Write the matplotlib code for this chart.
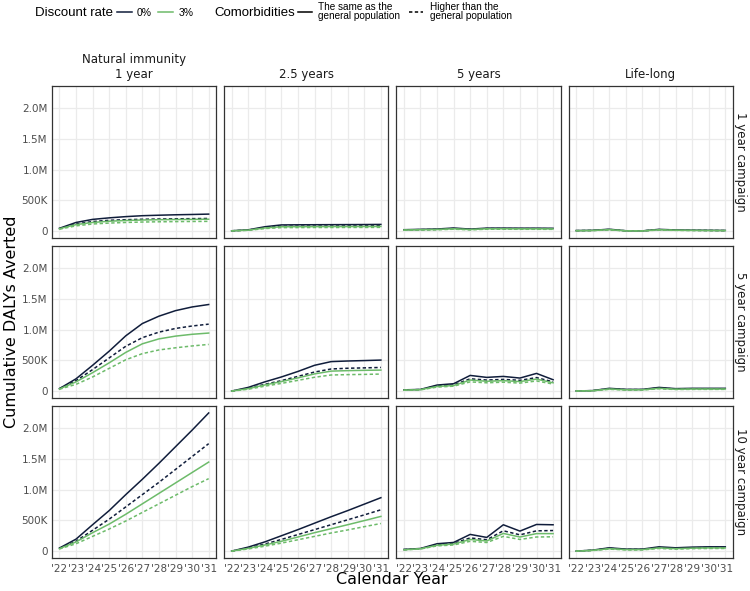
import matplotlib.pyplot as plt
from matplotlib.lines import Line2D
from matplotlib.ticker import FuncFormatter

years = [2022, 2023, 2024, 2025, 2026, 2027, 2028, 2029, 2030, 2031]
year_labels = ["'22", "'23", "'24", "'25", "'26", "'27", "'28", "'29", "'30", "'31"]
immunity = ['Natural immunity\n1 year', '2.5 years', '5 years', 'Life-long']
campaigns = ['1 year campaign', '5 year campaign', '10 year campaign']

# cumulative DALYs averted, thousands
# order per panel: 0% same, 0% higher, 3% same, 3% higher
camp1_nat1 = [
    [45, 140, 190, 215, 235, 250, 258, 265, 270, 276],
    [40, 115, 155, 175, 185, 192, 196, 199, 202, 205],
    [38, 105, 140, 160, 172, 180, 185, 188, 190, 193],
    [30, 85, 115, 130, 140, 147, 151, 154, 156, 158],
]
camp1_25y = [
    [5, 20, 70, 100, 102, 103, 104, 105, 106, 108],
    [4, 16, 55, 78, 80, 81, 82, 83, 84, 85],
    [4, 15, 50, 70, 71, 72, 73, 73, 74, 75],
    [3, 12, 40, 56, 57, 58, 58, 59, 59, 60],
]
camp1_5y = [
    [22, 28, 33, 50, 32, 48, 48, 47, 47, 45],
    [18, 23, 27, 40, 27, 40, 40, 39, 39, 38],
    [17, 22, 26, 37, 25, 37, 37, 36, 36, 35],
    [14, 18, 21, 30, 20, 30, 30, 29, 29, 28],
]
camp1_life = [
    [8, 12, 30, 5, 3, 28, 18, 14, 12, 10],
    [7, 10, 25, 4, 3, 23, 15, 12, 10, 8],
    [6, 9, 23, 4, 2, 21, 14, 11, 9, 8],
    [5, 8, 19, 3, 2, 17, 11, 9, 7, 6],
]
camp5_nat1 = [
    [40, 200, 420, 650, 900, 1100, 1220, 1310, 1370, 1410],
    [40, 170, 350, 540, 730, 870, 960, 1020, 1060, 1090],
    [35, 150, 300, 460, 630, 770, 850, 895, 925, 945],
    [30, 110, 230, 370, 510, 610, 670, 705, 735, 760],
]
camp5_25y = [
    [0, 60, 150, 230, 320, 420, 480, 490, 497, 505],
    [0, 45, 110, 170, 240, 310, 360, 372, 378, 385],
    [0, 40, 100, 155, 215, 280, 325, 333, 338, 342],
    [0, 30, 80, 125, 175, 225, 262, 268, 272, 277],
]
camp5_5y = [
    [20, 27, 98, 120, 255, 223, 239, 212, 288, 185],
    [18, 25, 85, 100, 200, 180, 190, 175, 220, 150],
    [16, 23, 75, 90, 180, 160, 170, 155, 195, 135],
    [14, 20, 65, 80, 150, 135, 145, 130, 165, 115],
]
camp5_life = [
    [2, 8, 45, 28, 28, 60, 40, 45, 45, 45],
    [2, 7, 38, 24, 24, 50, 34, 38, 38, 38],
    [2, 6, 34, 21, 21, 45, 30, 34, 34, 34],
    [1, 5, 28, 18, 18, 38, 26, 28, 28, 28],
]
camp10_nat1 = [
    [50, 195, 430, 660, 920, 1170, 1430, 1700, 1970, 2250],
    [45, 160, 340, 520, 720, 920, 1120, 1330, 1540, 1750],
    [40, 150, 300, 440, 600, 770, 940, 1110, 1280, 1450],
    [35, 120, 240, 360, 490, 630, 770, 910, 1050, 1180],
]
camp10_25y = [
    [0, 65, 150, 250, 350, 455, 560, 660, 765, 870],
    [0, 50, 115, 190, 270, 350, 430, 510, 590, 673],
    [0, 45, 100, 160, 230, 300, 365, 430, 497, 565],
    [0, 35, 80, 130, 185, 240, 295, 345, 398, 450],
]
camp10_5y = [
    [27, 43, 120, 141, 272, 223, 429, 326, 434, 429],
    [25, 40, 100, 125, 215, 185, 331, 265, 330, 335],
    [22, 38, 95, 115, 190, 165, 288, 230, 285, 285],
    [20, 35, 85, 100, 160, 140, 240, 190, 230, 233],
]
camp10_life = [
    [0, 16, 54, 33, 33, 70, 54, 65, 70, 70],
    [0, 13, 45, 28, 28, 58, 45, 54, 58, 58],
    [0, 12, 40, 25, 25, 52, 40, 48, 52, 52],
    [0, 10, 33, 20, 20, 43, 33, 40, 43, 43],
]

panels = [
    [camp1_nat1, camp1_25y, camp1_5y, camp1_life],
    [camp5_nat1, camp5_25y, camp5_5y, camp5_life],
    [camp10_nat1, camp10_25y, camp10_5y, camp10_life],
]

navy = '#101d3b'
green = '#6dbb6a'
dash = (0, (2.2, 1.6))
styles = [(navy, '-'), (navy, dash), (green, '-'), (green, dash)]


def fmt(v, pos):
    if v == 0:
        return '0'
    if v >= 1e6:
        return '%.1fM' % (v / 1e6)
    return '%dK' % (v / 1e3)


fig, axes = plt.subplots(3, 4, figsize=(7.5, 5.91), dpi=100, sharex=True, sharey=True)
fig.subplots_adjust(left=0.0693, right=0.977, top=0.8545, bottom=0.0558,
                    wspace=0.049, hspace=0.053)

for r in range(3):
    for c in range(4):
        ax = axes[r, c]
        for series, (col, ls) in zip(panels[r][c], styles):
            ax.plot(years, [v * 1000 for v in series], color=col, linestyle=ls, lw=1.1)
        ax.set_xlim(2021.55, 2031.45)
        ax.set_ylim(-112500, 2362500)
        ax.set_xticks(years)
        ax.set_xticklabels(year_labels)
        ax.set_yticks([0, 500000, 1000000, 1500000, 2000000])
        ax.yaxis.set_major_formatter(FuncFormatter(fmt))
        ax.grid(True, color='#ebebeb', lw=0.9)
        ax.set_axisbelow(True)
        for s in ax.spines.values():
            s.set_color('#333333')
            s.set_linewidth(0.9)
        ax.tick_params(length=0, pad=3, labelsize=7.5, colors='#4d4d4d',
                       labelleft=(c == 0), labelbottom=(r == 2))
        ax.tick_params(axis='x', pad=4)
        if r == 0:
            ax.set_title(immunity[c], fontsize=8.5, color='#1a1a1a', pad=6)
        if c == 3:
            ax.text(1.045, 0.5, campaigns[r], transform=ax.transAxes, rotation=-90,
                    ha='center', va='center', fontsize=8.5, color='#1a1a1a')

fig.text(392 / 750, 1 - 580 / 591, 'Calendar Year', ha='center', va='center', fontsize=11.5)
fig.text(12 / 750, 1 - 322 / 591, 'Cumulative DALYs Averted', ha='center', va='center',
         rotation=90, fontsize=11.5)

# legend drawn at the top
W, H = 750.0, 591.0
def fx(x):
    return x / W
def fy(y):
    return 1 - y / H

lf = 'Liberation Sans'
fig.text(fx(35), fy(13), 'Discount rate', ha='left', va='center', fontsize=9.5, family=lf)
fig.add_artist(Line2D([fx(117), fx(132)], [fy(12), fy(12)], color=navy, lw=1.1))
fig.text(fx(137), fy(13), '0%', ha='left', va='center', fontsize=7.5, family=lf)
fig.add_artist(Line2D([fx(158), fx(173)], [fy(12), fy(12)], color=green, lw=1.1))
fig.text(fx(179), fy(13), '3%', ha='left', va='center', fontsize=7.5, family=lf)

fig.text(fx(214), fy(13), 'Comorbidities', ha='left', va='center', fontsize=9.5, family=lf)
fig.add_artist(Line2D([fx(298), fx(312)], [fy(12), fy(12)], color='black', lw=1.1))
fig.text(fx(318), fy(11.5), 'The same as the\ngeneral population', ha='left', va='center',
         fontsize=7.2, linespacing=0.95, family=lf)
fig.add_artist(Line2D([fx(409), fx(423)], [fy(12), fy(12)], color='black', lw=1.1,
                      linestyle=dash))
fig.text(fx(430), fy(11.5), 'Higher than the\ngeneral population', ha='left', va='center',
         fontsize=7.2, linespacing=0.95, family=lf)

fig.savefig('out.png', dpi=100)
